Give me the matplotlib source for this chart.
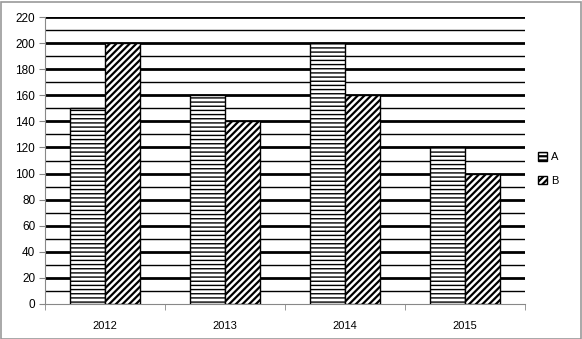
import matplotlib
matplotlib.use("Agg")
import matplotlib.pyplot as plt
import numpy as np
from matplotlib.patches import Rectangle

years = ["2012", "2013", "2014", "2015"]
series_a = [150, 160, 200, 120]
series_b = [200, 140, 160, 100]

plt.rcParams['font.family'] = ['Liberation Sans', 'DejaVu Sans']

fig = plt.figure(figsize=(5.82, 3.39), dpi=100)
ax = fig.add_axes([45/582, 35/339, 480/582, 287/339])

x = np.arange(len(years))
w = 0.29
plt.rcParams['hatch.linewidth'] = 1.0
ax.bar(x - w/2, series_a, w, color='white', edgecolor='black', hatch='----', linewidth=1.0, zorder=3, label='A')
plt.rcParams['hatch.linewidth'] = 1.6
ax.bar(x + w/2, series_b, w, color='white', edgecolor='black', hatch='/////', linewidth=1.0, zorder=3, label='B')

ax.set_xlim(-0.5, len(years) - 0.5)
ax.set_ylim(0, 220)
ax.set_yticks(np.arange(0, 221, 20))
ax.set_yticks(np.arange(10, 220, 20), minor=True)
for yv in np.arange(20, 221, 20):
    ax.axhline(yv, color='black', linewidth=2.0, zorder=1)
for yv in np.arange(10, 220, 20):
    ax.axhline(yv, color='black', linewidth=1.0, zorder=1)

ax.set_xticks(x)
ax.set_xticklabels(years)
ax.set_xticks(np.arange(-0.5, len(years), 1.0), minor=True)
ax.tick_params(axis='x', which='major', length=0, pad=12, labelsize=8)
ax.tick_params(axis='x', which='minor', length=4, color='#888888', direction='out')
ax.tick_params(axis='y', which='major', length=4, color='#888888', labelsize=8.5, pad=3)
ax.tick_params(axis='y', which='minor', length=0)

for s in ['top', 'right']:
    ax.spines[s].set_visible(False)
ax.spines['left'].set_color('#888888')
ax.spines['bottom'].set_color('#888888')

leg = fig.legend(loc='center left', bbox_to_anchor=(528/582, 1 - 169/339), frameon=False,
                 fontsize=8, handlelength=0.8, handleheight=0.8, handletextpad=0.4, labelspacing=1.2)

fig.patches.append(Rectangle((0.5/582, 0.5/339), 580/582, 337/339, transform=fig.transFigure,
                             fill=False, edgecolor='#999999', linewidth=1.2))

fig.savefig('out.png', dpi=100)
